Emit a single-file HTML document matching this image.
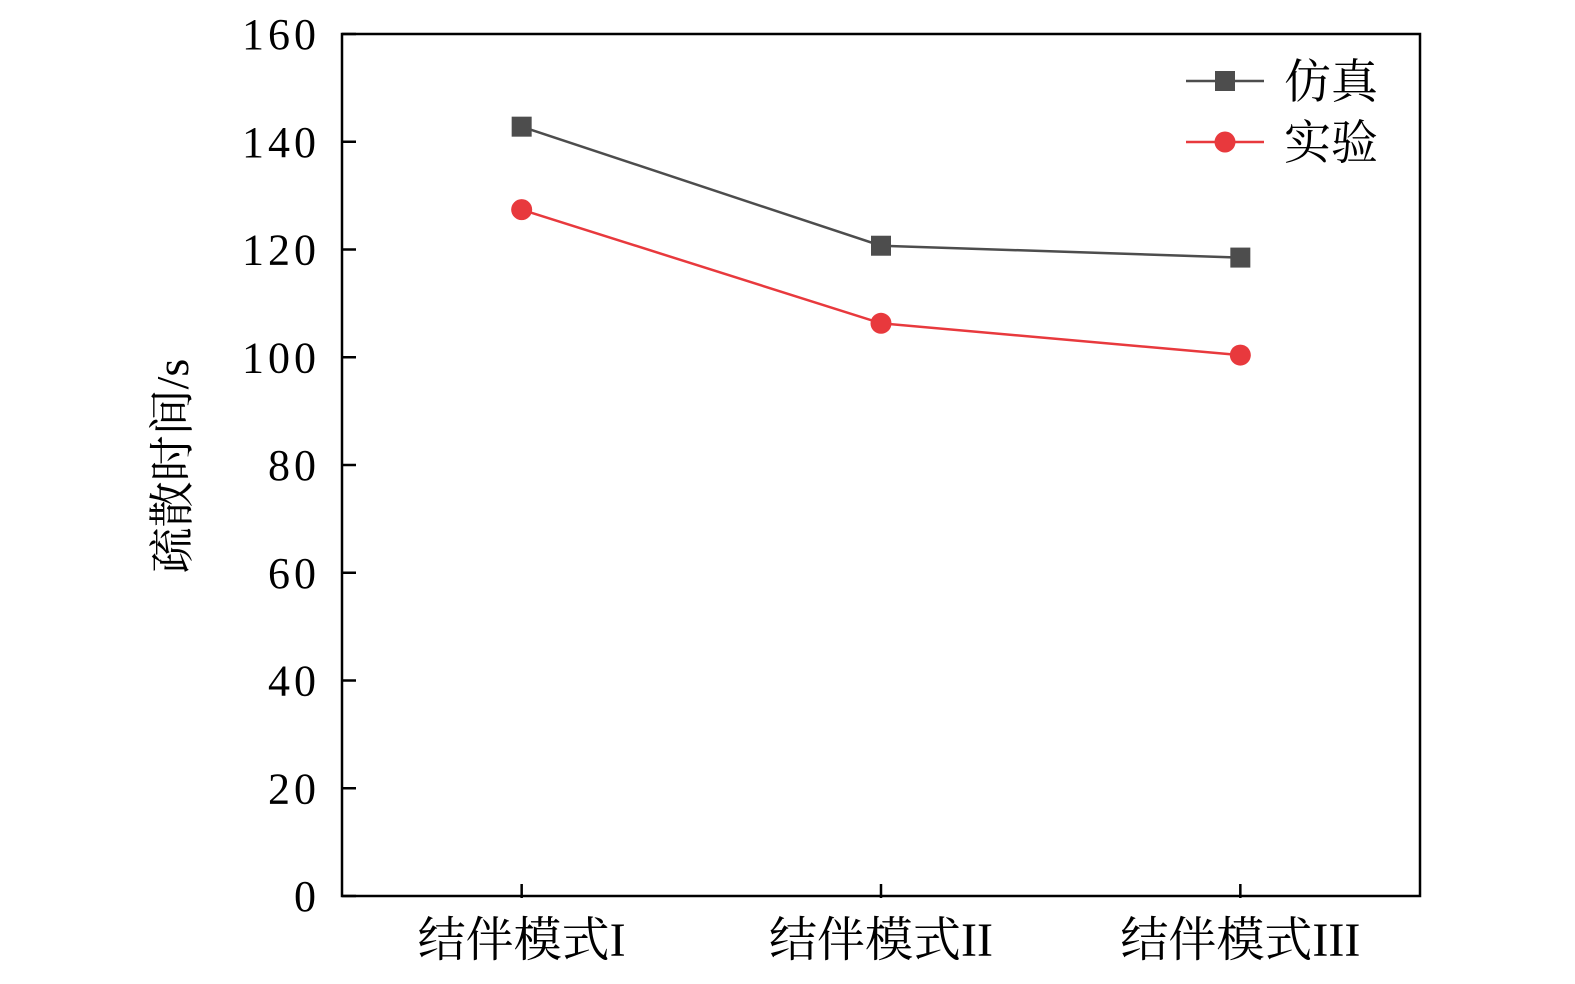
<!DOCTYPE html>
<html><head><meta charset="utf-8"><style>
html,body{margin:0;padding:0;background:#fff;}
svg{display:block;}
.t{font-family:"Liberation Serif","Noto Serif CJK SC",serif;fill:#000;}
</style></head><body>
<svg id="chart" width="1575" height="984">
<g id="plot"></g>
</svg>
<script>
const categories = ["结伴模式I","结伴模式II","结伴模式III"];
const simValues = [142.8, 120.7, 118.5];
const expValues = [127.4, 106.3, 100.4];
const yTicks = [0,20,40,60,80,100,120,140,160];
const seriesNames = ["仿真","实验"];

const L=342,R=1420,T=34,B=896;
const ymax=160;
function yS(v){return B-(v/ymax)*(B-T);}
function xS(i){return L+(i+0.5)*(R-L)/categories.length;}
const svg=document.getElementById('chart');
const NS='http://www.w3.org/2000/svg';
function mk(tag,attrs){const e=document.createElementNS(NS,tag);for(const k in attrs)e.setAttribute(k,attrs[k]);svg.appendChild(e);return e;}

const frame=mk('rect',{x:L,y:T,width:R-L,height:B-T,fill:'none',stroke:'#000','stroke-width':2.5});



yTicks.forEach(v=>{
  const y=yS(v);
  const tk=mk('line',{x1:L,x2:L+14,y1:y,y2:y,stroke:'#000','stroke-width':2.5});
  
  
  const tx=mk('text',{x:L-22,y:y+15,'text-anchor':'end','font-size':44,'letter-spacing':4,class:'t'});
  
  
  tx.textContent=v;
});
categories.forEach((c,i)=>{
  const x=xS(i);
  const tk=mk('line',{x1:x,x2:x,y1:B-12,y2:B+2,stroke:'#000','stroke-width':2.5});
  
  
  const tx=mk('text',{x:x,y:B+60,'text-anchor':'middle','font-size':48,class:'t'});
  
  
  tx.textContent=c;
});
const yt=mk('text',{x:0,y:0,'text-anchor':'middle','font-size':46,class:'t',transform:'translate(188,466) rotate(-90)'});


yt.textContent='疏散时间/s';

function series(vals,color,shape,name){
  const pts=vals.map((v,i)=>xS(i)+','+yS(v)).join(' ');
  const pl=mk('polyline',{points:pts,fill:'none',stroke:color,'stroke-width':2.5});
  
  
  vals.forEach((v,i)=>{
    let m;
    if(shape==='sq') m=mk('rect',{x:xS(i)-10,y:yS(v)-10,width:20,height:20,fill:color});
    else m=mk('circle',{cx:xS(i),cy:yS(v),r:10.5,fill:color});
    
    
  });
}
series(simValues,'#4d4d4d','sq','sim');
series(expValues,'#e8393d','ci','exp');

[[81,'#4d4d4d','sq'],[142,'#e8393d','ci']].forEach((d,i)=>{
  const [y,c,s]=d;
  const ln=mk('line',{x1:1186,x2:1264,y1:y,y2:y,stroke:c,'stroke-width':2.5});
  
  
  let m;
  if(s==='sq') m=mk('rect',{x:1215,y:y-10,width:20,height:20,fill:c});
  else m=mk('circle',{cx:1225,cy:y,r:10.5,fill:c});
  
  
  const tx=mk('text',{x:1284,y:y+17,'font-size':47,class:'t'});
  
  
  tx.textContent=seriesNames[i];
});
</script>
</body></html>
